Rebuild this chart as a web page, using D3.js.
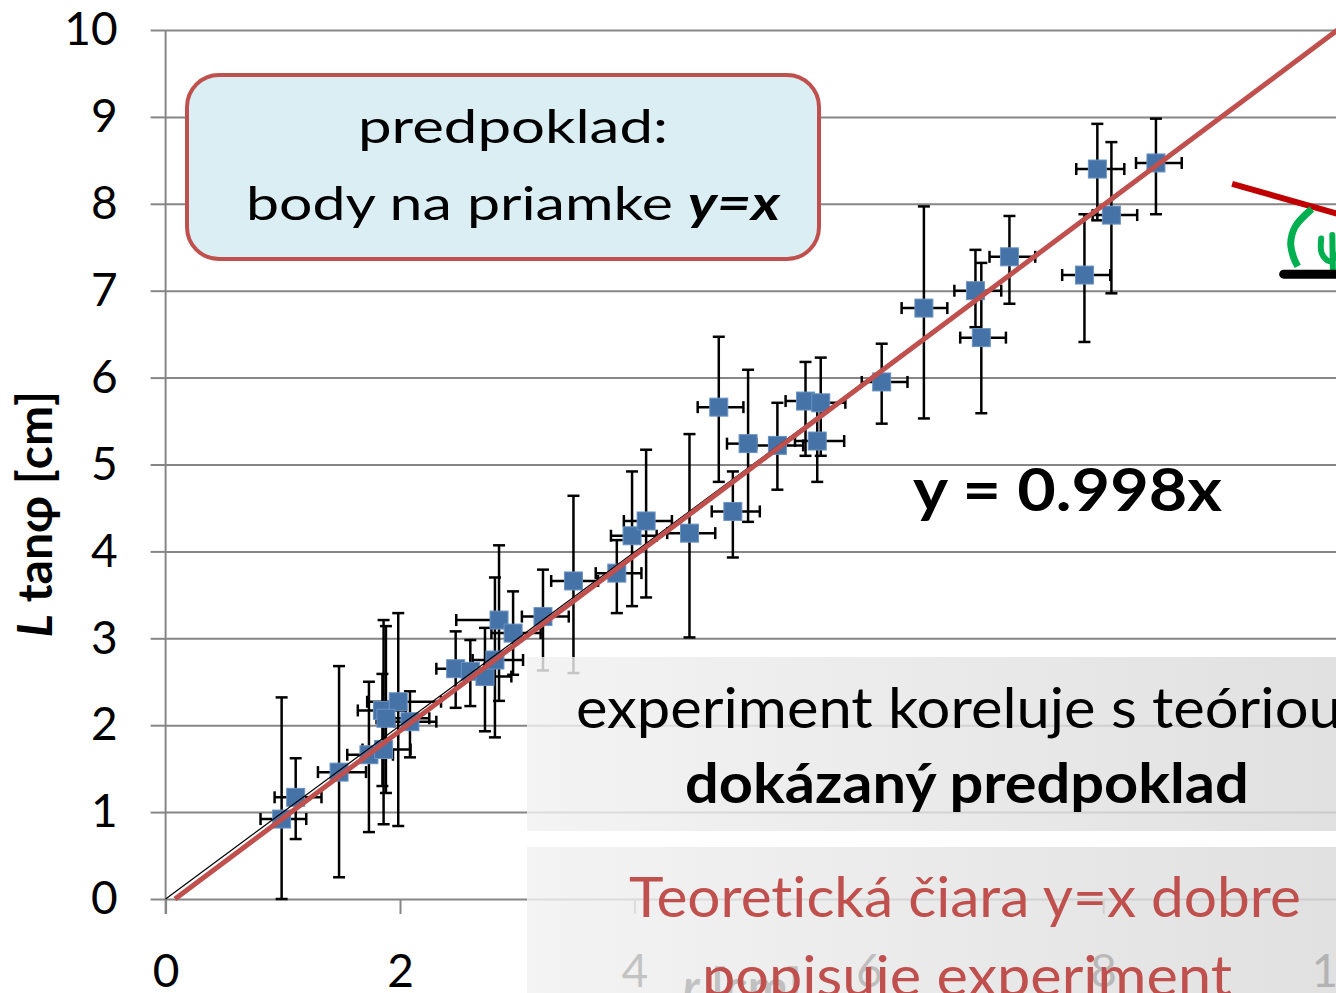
<!DOCTYPE html>
<html>
<head>
<meta charset="utf-8">
<script src="https://cdn.jsdelivr.net/npm/d3@7"></script>
<style>
  body { margin: 0; background: #fff; overflow: hidden; }
  svg { display: block; font-family: Lato, "Open Sans", sans-serif; }
  svg text, svg tspan { font-variant-ligatures: none; font-feature-settings: "liga" 0, "clig" 0, "dlig" 0; }
</style>
</head>
<body>
<div id="chart"></div>
<script>
// measured points: r [cm] vs L tan(phi) [cm], with error bar ends
const xVals = [0.99, 1.11, 1.48, 1.735, 1.86, 1.85, 1.985, 1.88, 2.085, 2.475, 2.60, 2.725, 2.81, 2.845, 2.965, 3.22, 3.48, 3.85, 3.98, 4.10, 4.47, 4.72, 4.84, 4.97, 5.22, 5.46, 5.59, 5.56, 6.11, 6.47, 6.91, 6.96, 7.20, 7.84, 7.95, 8.07, 8.45];
const yVals = [0.92, 1.17, 1.46, 1.66, 1.72, 2.17, 2.27, 2.08, 2.04, 2.65, 2.62, 2.56, 2.75, 3.21, 3.06, 3.25, 3.66, 3.75, 4.18, 4.35, 4.21, 5.66, 4.46, 5.24, 5.22, 5.73, 5.71, 5.27, 5.95, 6.80, 7.00, 6.46, 7.39, 7.18, 8.40, 7.87, 8.47];
const xLow  = [0.81, 0.93, 1.30, 1.55, 1.68, 1.64, 1.72, 1.80, 1.95, 2.31, 2.42, 2.55, 2.62, 2.48, 2.78, 3.04, 3.29, 3.67, 3.80, 3.91, 4.28, 4.54, 4.66, 4.79, 5.01, 5.29, 5.40, 5.37, 5.94, 6.28, 6.73, 6.78, 7.03, 7.65, 7.77, 7.91, 8.28];
const xHigh = [1.20, 1.33, 1.71, 1.94, 2.09, 2.05, 2.35, 2.25, 2.31, 2.72, 2.80, 2.95, 3.05, 2.91, 3.20, 3.44, 3.69, 4.06, 4.19, 4.32, 4.69, 4.93, 5.07, 5.04, 5.44, 5.63, 5.80, 5.79, 6.33, 6.67, 7.13, 7.17, 7.42, 8.06, 8.18, 8.29, 8.67];
const yLow  = [0.00, 0.69, 0.25, 0.77, 0.86, 1.30, 0.84, 1.22, 1.63, 2.20, 2.22, 1.93, 1.86, 2.28, 2.58, 2.63, 2.60, 3.29, 3.37, 3.47, 3.01, 4.80, 3.93, 4.34, 4.71, 5.10, 5.10, 4.80, 5.47, 5.53, 6.58, 5.59, 6.85, 6.41, 7.81, 6.97, 7.88];
const yHigh = [2.32, 1.62, 2.68, 2.50, 3.21, 2.59, 3.29, 3.14, 2.39, 3.08, 2.98, 3.12, 3.70, 4.07, 3.54, 3.79, 4.64, 4.13, 4.92, 5.17, 5.35, 6.47, 4.92, 6.09, 5.71, 6.18, 6.23, 5.75, 6.39, 7.97, 7.47, 7.32, 7.86, 7.88, 8.92, 8.71, 8.98];

const xTicks = [0, 2, 4, 6, 8, 10];
const yTicks = [0, 1, 2, 3, 4, 5, 6, 7, 8, 9, 10];
const trendSlope = 0.998;           // fitted line y = 0.998x
const theoryLine = [[0.08, 0], [10, 10]]; // drawn line y = x

const width = 1336;
const height = 993;
const gridColor = '#868686';

const svg = d3.select('#chart').append('svg')
  .attr('width', width)
  .attr('height', height);

const x = d3.scaleLinear().domain([0, 10]).range([165.6, 1337.6]);
const y = d3.scaleLinear().domain([0, 10]).range([899, 30]);

const defs = svg.append('defs');
const grad = defs.append('linearGradient')
  .attr('id', 'boxGrad')
  .attr('gradientUnits', 'userSpaceOnUse')
  .attr('x1', 527).attr('x2', 1336).attr('y1', 0).attr('y2', 0);
grad.append('stop').attr('offset', 0).attr('stop-color', '#f1f1f1');
grad.append('stop').attr('offset', 1).attr('stop-color', '#dadada');

// horizontal grid
svg.append('g')
  .attr('transform', 'translate(' + x(0) + ',0)')
  .call(d3.axisRight(y).tickValues(yTicks).tickSize(x(10) - x(0) + 10).tickFormat(''))
  .call(g => g.select('.domain').remove())
  .call(g => g.selectAll('line').attr('stroke', gridColor).attr('stroke-width', 2));

// y axis
svg.append('g')
  .attr('transform', 'translate(' + x(0) + ',0)')
  .call(d3.axisLeft(y).tickValues(yTicks).tickSize(15).tickPadding(33))
  .call(g => g.select('.domain').remove())
  .call(g => g.selectAll('line').attr('stroke', gridColor).attr('stroke-width', 2))
  .call(g => g.selectAll('text')
    .attr('font-size', 46).attr('fill', '#000').attr('font-family', 'Lato, sans-serif'));

// x axis
svg.append('g')
  .attr('transform', 'translate(0,' + y(0) + ')')
  .call(d3.axisBottom(x).tickValues(xTicks).tickSize(15).tickPadding(40))
  .call(g => g.select('.domain').remove())
  .call(g => g.selectAll('line').attr('stroke', gridColor).attr('stroke-width', 2))
  .call(g => g.selectAll('text')
    .attr('font-size', 46).attr('fill', '#000').attr('font-family', 'Lato, sans-serif'));

svg.append('line')
  .attr('x1', x(0)).attr('x2', x(0))
  .attr('y1', y(10)).attr('y2', y(0) + 15)
  .attr('stroke', gridColor).attr('stroke-width', 2);

// axis titles
const yTitle = svg.append('text')
  .attr('transform', 'translate(52,514) rotate(-90)')
  .attr('text-anchor', 'middle')
  .attr('font-size', 48)
  .attr('font-weight', 700);
yTitle.append('tspan').attr('font-style', 'italic').text('L');
yTitle.append('tspan').text(' tanφ [cm]');

const xTitle = svg.append('text')
  .attr('x', 742).attr('y', 1004)
  .attr('text-anchor', 'middle')
  .attr('font-size', 48)
  .attr('font-weight', 700);
xTitle.append('tspan').attr('font-style', 'italic').text('r');
xTitle.append('tspan').text(' [cm]');

// error bars
const idx = d3.range(xVals.length);
const cap = 6;
const bars = svg.append('g').attr('stroke', '#000').attr('stroke-width', 2.5);

bars.selectAll('.ev').data(idx).join('line')
  .attr('x1', i => x(xVals[i])).attr('x2', i => x(xVals[i]))
  .attr('y1', i => y(yLow[i])).attr('y2', i => y(yHigh[i]));
bars.selectAll('.evc').data(idx.flatMap(i => [[i, yLow[i]], [i, yHigh[i]]])).join('line')
  .attr('x1', d => x(xVals[d[0]]) - cap).attr('x2', d => x(xVals[d[0]]) + cap)
  .attr('y1', d => y(d[1])).attr('y2', d => y(d[1]));
bars.selectAll('.eh').data(idx).join('line')
  .attr('x1', i => x(xLow[i])).attr('x2', i => x(xHigh[i]))
  .attr('y1', i => y(yVals[i])).attr('y2', i => y(yVals[i]));
bars.selectAll('.ehc').data(idx.flatMap(i => [[i, xLow[i]], [i, xHigh[i]]])).join('line')
  .attr('x1', d => x(d[1])).attr('x2', d => x(d[1]))
  .attr('y1', d => y(yVals[d[0]]) - cap).attr('y2', d => y(yVals[d[0]]) + cap);

// markers
const ms = 18;
svg.append('g').selectAll('rect').data(idx).join('rect')
  .attr('x', i => x(xVals[i]) - ms / 2)
  .attr('y', i => y(yVals[i]) - ms / 2)
  .attr('width', ms).attr('height', ms)
  .attr('fill', '#4572a7')
  .attr('stroke', '#6a93c4')
  .attr('stroke-width', 1);

// trend line and theory line
svg.append('line')
  .attr('x1', x(0)).attr('y1', y(0))
  .attr('x2', x(10)).attr('y2', y(10 * trendSlope))
  .attr('stroke', '#000').attr('stroke-width', 1.2);

svg.append('line')
  .attr('x1', x(theoryLine[0][0])).attr('y1', y(theoryLine[0][1]))
  .attr('x2', x(theoryLine[1][0])).attr('y2', y(theoryLine[1][1]))
  .attr('stroke', '#c0504d').attr('stroke-width', 5);

// text stretched to a measured span
function fitText(parts, x0, x1, base, size, fill) {
  const t = svg.append('text').attr('font-size', size).attr('fill', fill || '#000');
  parts.forEach(p => t.append('tspan')
    .attr('font-weight', p.w || 400)
    .attr('font-style', p.i ? 'italic' : 'normal')
    .text(p.s));
  const w = t.node().getComputedTextLength();
  t.attr('transform', 'translate(' + x0 + ',' + base + ') scale(' + ((x1 - x0) / w) + ',1)');
  return t;
}

// callout
svg.append('rect')
  .attr('x', 187).attr('y', 75).attr('width', 632).attr('height', 184)
  .attr('rx', 32).attr('ry', 32)
  .attr('fill', '#dbeef4')
  .attr('stroke', '#c0504d').attr('stroke-width', 4);
fitText([{ s: 'predpoklad:' }], 358, 668, 143, 47);
fitText([{ s: 'body na priamke ' }, { s: 'y=x', w: 700, i: true }], 246, 780, 220, 47);

// regression equation
fitText([{ s: 'y = 0.998x', w: 700 }], 913, 1222, 511, 60);

// hand-drawn angle sketch
const sketch = svg.append('g').attr('fill', 'none').attr('stroke-linecap', 'round');
const line = d3.line().x(d => x(d[0])).y(d => y(d[1]));
const curve = d3.line().x(d => x(d[0])).y(d => y(d[1])).curve(d3.curveCatmullRom);
sketch.append('path')
  .attr('d', line([[9.10, 8.23], [10.3, 7.77]]))
  .attr('stroke', '#c00000').attr('stroke-width', 6).attr('stroke-linecap', 'butt');
sketch.append('path')
  .attr('d', curve([[9.78, 7.94], [9.64, 7.74], [9.60, 7.55], [9.625, 7.38], [9.66, 7.28]]))
  .attr('stroke', '#00b050').attr('stroke-width', 7).attr('stroke-linecap', 'butt');
sketch.append('path')
  .attr('d', curve([[9.86, 7.60], [9.865, 7.43], [9.93, 7.34], [10.0, 7.42]]))
  .attr('stroke', '#00b050').attr('stroke-width', 6);
sketch.append('path')
  .attr('d', line([[9.955, 7.64], [9.96, 7.2]]))
  .attr('stroke', '#00b050').attr('stroke-width', 6);
sketch.append('path')
  .attr('d', line([[9.54, 7.19], [10.3, 7.19]]))
  .attr('stroke', '#000').attr('stroke-width', 9);

// conclusion boxes
svg.append('rect')
  .attr('x', 527).attr('y', 657).attr('width', 900).attr('height', 174)
  .attr('fill', 'url(#boxGrad)').attr('fill-opacity', 0.82);
svg.append('rect')
  .attr('x', 527).attr('y', 847).attr('width', 900).attr('height', 200)
  .attr('fill', 'url(#boxGrad)').attr('fill-opacity', 0.82);

fitText([{ s: 'experiment koreluje s teóriou' }], 576, 1342, 728, 56);
fitText([{ s: 'dokázaný predpoklad', w: 700 }], 685, 1249, 803, 56);
fitText([{ s: 'Teoretická čiara y=x dobre' }], 629, 1301, 917, 56, '#c0504d');
fitText([{ s: 'popisuje experiment' }], 702, 1232, 996, 56, '#c0504d');
</script>
</body>
</html>
